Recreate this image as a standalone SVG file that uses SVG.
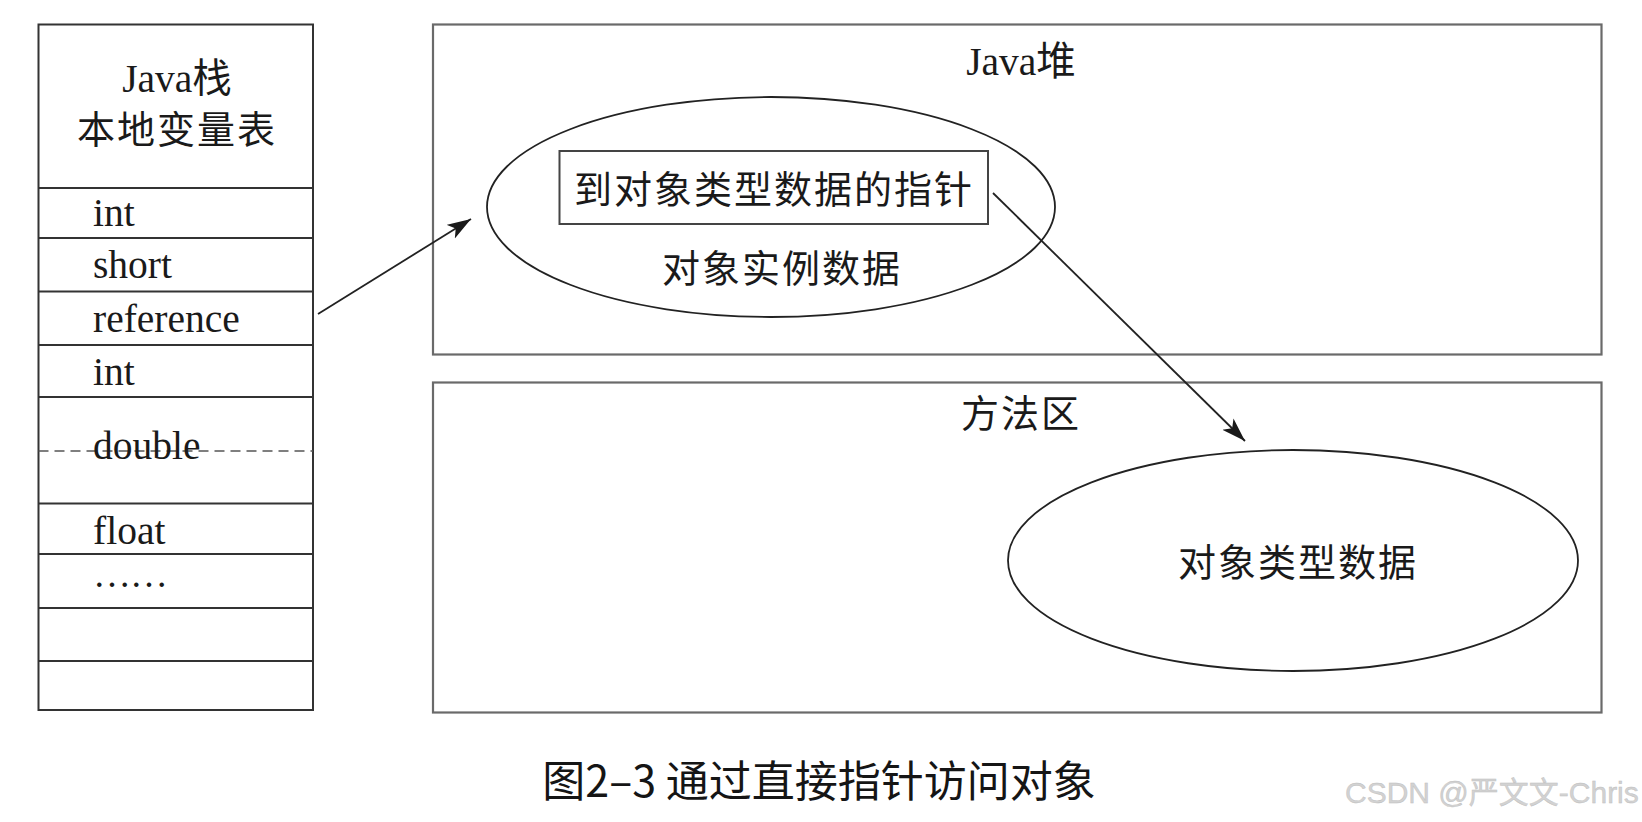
<svg xmlns="http://www.w3.org/2000/svg" width="1642" height="822" viewBox="0 0 1642 822">
<defs>
<style>
.t{font-family:"Liberation Serif","Noto Sans CJK SC",serif;font-size:38px;fill:#1a1a1a}
.lt{font-size:39.5px}
.cj{letter-spacing:2px}
.mid{text-anchor:middle}
.box{fill:none;stroke:#333;stroke-width:2}
.area{fill:none;stroke:#6a6a6a;stroke-width:2.2}
.ell{fill:none;stroke:#222;stroke-width:1.8}
.conn{stroke:#222;stroke-width:1.8;fill:none}
</style>
<marker id="ah" markerUnits="userSpaceOnUse" markerWidth="26" markerHeight="18" refX="24" refY="8" orient="auto">
<path d="M0,0 L24,8 L0,16 L6,8 Z" fill="#1a1a1a"/>
</marker>
</defs>
<rect width="1642" height="822" fill="#fff"/>

<g id="java-stack">
<rect class="box" x="38.5" y="24.5" width="274.5" height="685.5"/>
<g stroke="#333" stroke-width="2">
<line x1="38.5" y1="188" x2="313" y2="188"/>
<line x1="38.5" y1="238" x2="313" y2="238"/>
<line x1="38.5" y1="291.5" x2="313" y2="291.5"/>
<line x1="38.5" y1="345" x2="313" y2="345"/>
<line x1="38.5" y1="397" x2="313" y2="397"/>
<line x1="38.5" y1="503.5" x2="313" y2="503.5"/>
<line x1="38.5" y1="554" x2="313" y2="554"/>
<line x1="38.5" y1="608" x2="313" y2="608"/>
<line x1="38.5" y1="661" x2="313" y2="661"/>
</g>
<line x1="38.5" y1="451" x2="313" y2="451" stroke="#555" stroke-width="1.5" stroke-dasharray="10 6"/>
<text class="t mid" x="177" y="92" style="font-size:39.5px">Java栈</text>
<text class="t mid cj" x="177" y="142.5">本地变量表</text>
<text class="t lt" x="93" y="226">int</text>
<text class="t lt" x="93" y="278">short</text>
<text class="t lt" x="93" y="332">reference</text>
<text class="t lt" x="93" y="385">int</text>
<text class="t lt" x="93" y="459">double</text>
<text class="t lt" x="93" y="544">float</text>
<text class="t" x="93" y="587" style="letter-spacing:-1px">……</text>
</g>

<g id="java-heap">
<rect class="area" x="433" y="24.5" width="1168.5" height="330"/>
<text class="t mid" x="1021" y="75" style="font-size:39.5px">Java堆</text>
</g>

<g id="object-instance">
<ellipse class="ell" cx="771" cy="207" rx="284" ry="110"/>
<text class="t mid cj" x="782" y="282">对象实例数据</text>
</g>

<g id="type-pointer">
<rect x="559.5" y="151" width="428.5" height="73" fill="none" stroke="#444" stroke-width="2"/>
<text class="t mid cj" x="774" y="203">到对象类型数据的指针</text>
</g>

<g id="method-area">
<rect class="area" x="433" y="382.5" width="1168.5" height="330"/>
<text class="t mid cj" x="1021" y="427">方法区</text>
</g>

<g id="object-type">
<ellipse class="ell" cx="1293" cy="560.5" rx="285" ry="110.5"/>
<text class="t mid cj" x="1298" y="576">对象类型数据</text>
</g>

<g id="connectors">
<line class="conn" x1="318" y1="314" x2="471" y2="219" marker-end="url(#ah)"/>
<line class="conn" x1="993" y1="193" x2="1245" y2="441" marker-end="url(#ah)"/>
</g>

<text x="819" y="797" text-anchor="middle" font-family="'Noto Sans CJK SC','Noto Sans',sans-serif" font-size="43" fill="#151515">图2–3 通过直接指针访问对象</text>
<text x="1345" y="803" font-family="'Liberation Sans','Noto Sans CJK SC',sans-serif" font-size="30" fill="#d2d2d2" stroke="#bdbdbd" stroke-width="0.4">CSDN @严文文-Chris</text>
</svg>
